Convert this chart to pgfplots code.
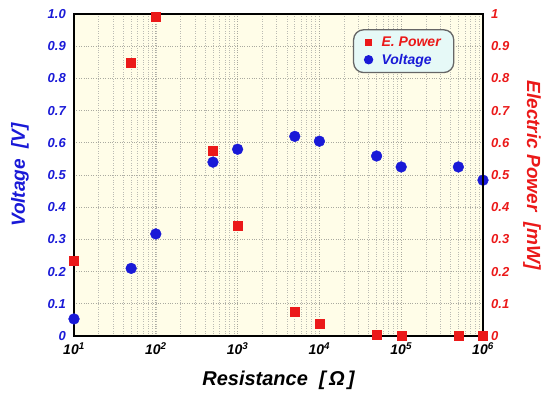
\documentclass[border=0pt]{standalone}
\usepackage{pgfplots}
\pgfplotsset{compat=1.18}
\usepackage{fontspec}
\setmainfont{Liberation Sans}
\definecolor{vblue}{RGB}{25,25,215}
\definecolor{pred}{RGB}{235,25,25}
\definecolor{bgc}{RGB}{255,253,232}
\definecolor{legbg}{RGB}{230,249,247}
\definecolor{gridc}{RGB}{170,170,160}
\pgfplotsset{
  common/.style={
    at={(74pt,56pt)}, anchor=south west, scale only axis,
    width=409pt, height=322pt,
    xmin=10, xmax=1e6, ymin=0, ymax=1,
    clip=false,
    major tick length=0pt, minor tick length=0pt,
    ytick={0,0.1,0.2,0.3,0.4,0.5,0.6,0.7,0.8,0.9,1},
    tick label style={font=\bfseries\itshape\fontsize{13}{13}\selectfont},
    /pgf/number format/assume math mode=true,
  }
}
\begin{document}
\begin{tikzpicture}[x=1pt,y=1pt]
\useasboundingbox (0,0) rectangle (549,392);
\begin{axis}[xmode=log, common,
  axis line style={line width=1.6pt, black},
  axis background/.style={fill=bgc},
  xtick={10,100,1000,10000,100000,1000000},
  xticklabels={10\textsuperscript{1},10\textsuperscript{2},10\textsuperscript{3},10\textsuperscript{4},10\textsuperscript{5},10\textsuperscript{6}},
  xticklabel style={yshift=-3pt, font=\bfseries\itshape\fontsize{14}{14}\selectfont},
  yticklabels={0,0.1,0.2,0.3,0.4,0.5,0.6,0.7,0.8,0.9,1.0},
  yticklabel style={text=vblue, inner sep=0pt, anchor=east, xshift=-8pt},
  grid=both,
  major grid style={dotted, gridc, line width=0.7pt},
  minor grid style={dotted, gridc!80, line width=0.6pt},
  minor x tick num=8,
  xlabel={Resistance\ \ [\,Ω\,]},
  ylabel={\textcolor{vblue}{Voltage\ \ [V]}},
  every axis x label/.style={at={(axis description cs:0.5,-0.155)}, anchor=base, font=\bfseries\itshape\fontsize{20}{20}\selectfont},
  every axis y label/.style={at={(axis description cs:-0.132,0.5)}, anchor=center, rotate=90, font=\bfseries\itshape\fontsize{19}{19}\selectfont},
]
\addplot[only marks, mark=*, mark size=5.4pt, color=vblue] coordinates {
(10,0.053) (50,0.21) (100,0.317) (500,0.54) (1000,0.58) (5000,0.62) (10000,0.605) (50000,0.559) (100000,0.525) (500000,0.525) (1000000,0.484)
};
\end{axis}
\begin{axis}[xmode=log, common,
  axis x line=none,
  axis y line*=right,
  axis line style={line width=1.6pt, black},
  xtick=\empty,
  yticklabels={0,0.1,0.2,0.3,0.4,0.5,0.6,0.7,0.8,0.9,1},
  yticklabel style={text=pred, inner sep=0pt, anchor=west, xshift=8pt},
  ylabel={\textcolor{pred}{Electric Power\ \ [mW]}},
  every axis y label/.style={at={(axis description cs:1.12,0.5)}, anchor=center, rotate=-90, font=\bfseries\itshape\fontsize{19}{19}\selectfont},
  legend style={at={(axis description cs:0.682,0.953)}, anchor=north west,
    fill=legbg, draw=black!60, line width=1.3pt, rounded corners=10pt,
    font=\bfseries\itshape\fontsize{14}{16}\selectfont,
    inner xsep=11pt, inner ysep=5pt, row sep=2pt, column sep=7pt},
  legend cell align=left,
]
\addplot[only marks, mark=square*, mark size=4.5pt, color=pred, forget plot] coordinates {
(10,0.233) (50,0.85) (100,0.993) (500,0.574) (1000,0.342) (5000,0.075) (10000,0.037) (50000,0.003) (100000,0.002) (500000,0.002) (1000000,0.002)
};
\addlegendimage{only marks, mark=square*, mark size=3.2pt, color=pred}
\addlegendentry{\textcolor{pred}{E. Power}}
\addlegendimage{only marks, mark=*, mark size=4pt, color=vblue}
\addlegendentry{\textcolor{vblue}{Voltage}}
\end{axis}
\end{tikzpicture}
\end{document}
